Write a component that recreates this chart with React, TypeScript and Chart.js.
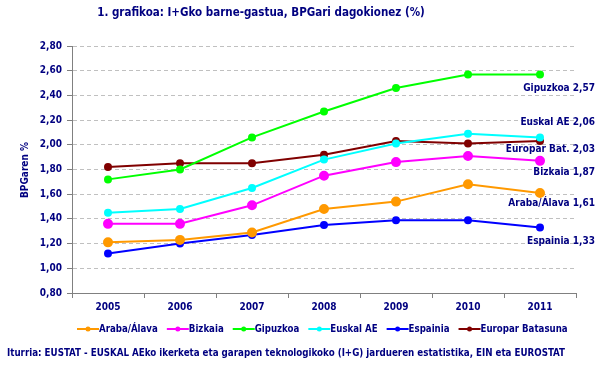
import React, { useEffect, useRef } from "react";
import { Chart, registerables } from "chart.js";

Chart.register(...registerables);

const years = ["2005", "2006", "2007", "2008", "2009", "2010", "2011"];
const araba = [1.21, 1.23, 1.29, 1.48, 1.54, 1.68, 1.61];
const bizkaia = [1.36, 1.36, 1.51, 1.75, 1.86, 1.91, 1.87];
const gipuzkoa = [1.72, 1.80, 2.06, 2.27, 2.46, 2.57, 2.57];
const euskalAE = [1.45, 1.48, 1.65, 1.88, 2.01, 2.09, 2.06];
const espainia = [1.12, 1.20, 1.27, 1.35, 1.39, 1.39, 1.33];
const europar = [1.82, 1.85, 1.85, 1.92, 2.03, 2.01, 2.03];

const seriesNames = ["Araba/Álava", "Bizkaia", "Gipuzkoa", "Euskal AE", "Espainia", "Europar Batasuna"];
const seriesColors = ["#FF9900", "#FF00FF", "#00FF00", "#00FFFF", "#0000FF", "#800000"];
const endLabels = ["Araba/Álava 1,61", "Bizkaia 1,87", "Gipuzkoa 2,57", "Euskal AE 2,06", "Espainia 1,33", "Europar Bat. 2,03"];
const endLabelOffsets = [10, 12, 14, -15, 13.5, 8];

const yTicks = [0.8, 1.0, 1.2, 1.4, 1.6, 1.8, 2.0, 2.2, 2.4, 2.6, 2.8];

const titleText = "1. grafikoa: I+Gko barne-gastua, BPGari dagokionez (%)";
const yTitle = "BPGaren %";
const sourceText = "Iturria: EUSTAT - EUSKAL AEko ikerketa eta garapen teknologikoko (I+G) jardueren estatistika, EIN eta EUROSTAT";

const NAVY = "#000080";
const FONT = "'DejaVu Sans Condensed', 'DejaVu Sans', sans-serif";

export default function App() {
  const ref = useRef<HTMLCanvasElement | null>(null);
  useEffect(() => {
    const canvas = ref.current;
    if (!canvas) return;
    const data = [araba, bizkaia, gipuzkoa, euskalAE, espainia, europar];
    const radii = [4, 4, 3, 3, 3, 3];

    const extras = {
      id: "extras",
      afterDraw(chart: any) {
        const ctx = chart.ctx;
        const ys = chart.scales.y;
        ctx.save();
        ctx.fillStyle = NAVY;
        ctx.font = `bold 11.5px ${FONT}`;
        ctx.textAlign = "center";
        ctx.textBaseline = "middle";
        ctx.fillText(titleText, 261, 13);
        ctx.save();
        ctx.translate(25, 170);
        ctx.rotate(-Math.PI / 2);
        ctx.font = `bold 10px ${FONT}`;
        ctx.fillText(yTitle, 0, 0);
        ctx.restore();
        ctx.font = `bold 10px ${FONT}`;
        ctx.textAlign = "right";
        data.forEach((d, i) => {
          const v = d[d.length - 1];
          const y = ys.getPixelForValue(v) + endLabelOffsets[i];
          ctx.fillText(endLabels[i], 595, y);
        });
        ctx.textAlign = "left";
        ctx.font = `bold 9.6px ${FONT}`;
        let x = 77;
        const ly = 329;
        seriesNames.forEach((n, i) => {
          ctx.strokeStyle = seriesColors[i];
          ctx.fillStyle = seriesColors[i];
          ctx.lineWidth = 2;
          ctx.beginPath();
          ctx.moveTo(x, ly);
          ctx.lineTo(x + 22, ly);
          ctx.stroke();
          ctx.beginPath();
          ctx.arc(x + 11, ly, 2.5, 0, Math.PI * 2);
          ctx.fill();
          ctx.fillStyle = NAVY;
          ctx.fillText(n, x + 22, ly);
          x += 22 + ctx.measureText(n).width + 9;
        });
        ctx.font = `bold 9.7px ${FONT}`;
        ctx.fillText(sourceText, 7, 353);
        ctx.restore();
      },
    };

    const chart = new Chart(canvas, {
      type: "line",
      data: {
        labels: years,
        datasets: data.map((d, i) => ({
          label: seriesNames[i],
          data: d,
          borderColor: seriesColors[i],
          backgroundColor: seriesColors[i],
          borderWidth: 2,
          pointRadius: radii[i],
          pointStyle: "circle",
          tension: 0,
          fill: false,
        })),
      },
      options: {
        responsive: false,
        animation: false,
        layout: { padding: { left: 0, right: 29, top: 46, bottom: 62 } },
        plugins: {
          legend: { display: false },
          title: { display: false },
          tooltip: { enabled: false },
        },
        scales: {
          x: {
            offset: true,
            afterFit: (s: any) => { s.height = 20; },
            grid: {
              offset: true,
              drawOnChartArea: false,
              tickLength: 5,
              tickColor: "#808080",
              color: "#808080",
            },
            border: { color: "#808080", width: 1 },
            ticks: {
              color: NAVY,
              font: { family: FONT, size: 10, weight: "bold" },
              padding: 3,
              maxRotation: 0,
            },
          },
          y: {
            min: 0.8,
            max: 2.8,
            afterFit: (s: any) => { s.width = 72; },
            afterBuildTicks: (s: any) => { s.ticks = yTicks.map((v) => ({ value: v })); },
            grid: {
              color: "#c0c0c0",
              tickBorderDash: [1, 0],
              tickColor: "#808080",
              tickLength: 5,
              lineWidth: 1,
            },
            border: { color: "#808080", width: 1, dash: [4, 3] },
            ticks: {
              color: NAVY,
              font: { family: FONT, size: 10, weight: "bold" },
              padding: 5,
              callback: (v: any) => Number(v).toFixed(2).replace(".", ","),
            },
          },
        },
      },
      plugins: [extras],
    } as any);
    return () => chart.destroy();
  }, []);

  return (
    <div style={{ position: "fixed", left: 0, top: 0, width: 605, height: 375, background: "#fff" }}>
      <canvas ref={ref} width={605} height={375} style={{ width: 605, height: 375 }} />
    </div>
  );
}
